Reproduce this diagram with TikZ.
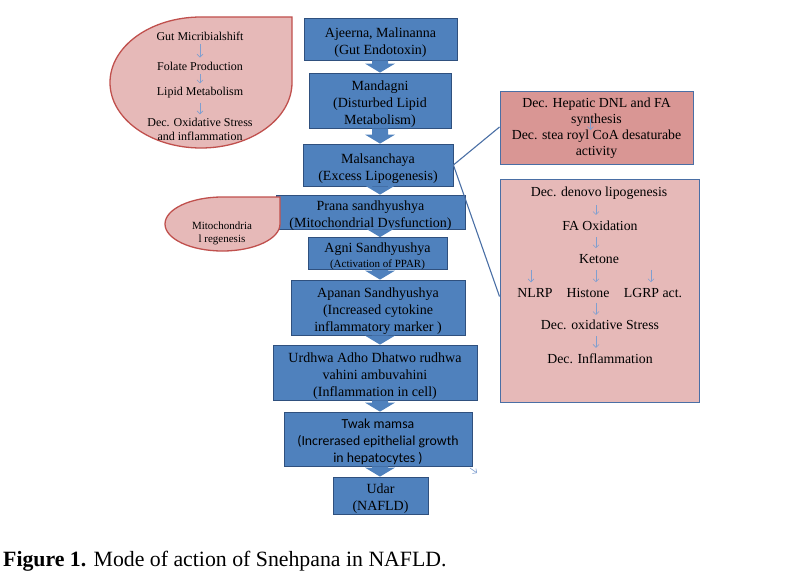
\documentclass[tikz,border=0pt]{standalone}
\usepackage{fontspec}
\setmainfont{Liberation Serif}
\newfontfamily\calibrifont{Carlito}
\usetikzlibrary{calc,arrows.meta}
\definecolor{boxblue}{HTML}{4F81BD}
\definecolor{boxedge}{HTML}{2F507E}
\definecolor{leafpink}{HTML}{E6B9B8}
\definecolor{leafedge}{HTML}{C0504D}
\definecolor{rosebox}{HTML}{D99694}
\definecolor{linkblue}{HTML}{4A6FA5}
\definecolor{tinyblue}{HTML}{7F9FD0}
\tikzset{
  stepbox/.style={draw=boxedge,fill=boxblue,line width=0.8pt,inner sep=0pt,
    font=\fontsize{14}{17}\selectfont},
  leafshape/.style={draw=leafedge,fill=leafpink,line width=1.3pt},
  leaftext/.style={inner sep=0pt,align=center,font=\fontsize{12}{13.5}\selectfont},
  sidetext/.style={inner sep=0pt,align=center,font=\fontsize{13.8}{15.5}\selectfont},
  tinyarrow/.style={draw=tinyblue,line width=0.6pt,-{Straight Barb[length=3pt,width=6pt]}},
  linkline/.style={draw=linkblue,line width=1.1pt}
}
% text of a step box, set a little low as in the slide
\newcommand\steplines[1]{\raisebox{-3.5pt}[\height][\depth]{\begin{tabular}{@{}c@{}}#1\end{tabular}}}
% fat blue arrow from one step box down to the next
\newcommand\flowarrow[2]{%
  \fill[boxblue] ($(#1.south -| flowcol)+(-8,0)$) -- ($(#1.south -| flowcol)+(8,0)$)
    -- ($(#2.north -| flowcol)+(8,-9)$) -- ($(#2.north -| flowcol)+(15,-9)$)
    -- (#2.north -| flowcol) -- ($(#2.north -| flowcol)+(-15,-9)$)
    -- ($(#2.north -| flowcol)+(-8,-9)$) -- cycle;}
\begin{document}
\begin{tikzpicture}[x=1pt,y=-1pt]
\useasboundingbox (0,0) rectangle (799,586);
\coordinate (flowcol) at (380,0);

% main column
\node[stepbox,minimum width=153pt,minimum height=42pt] (ajeerna) at (380.5,39) {\steplines{Ajeerna, Malinanna\\(Gut Endotoxin)}};
\node[stepbox,minimum width=142pt,minimum height=55pt] (mandagni) at (380,100.5) {\steplines{Mandagni\\(Disturbed Lipid\\Metabolism)}};
\node[stepbox,minimum width=150pt,minimum height=42pt] (malsanchaya) at (378,165) {\steplines{Malsanchaya\\(Excess Lipogenesis)}};
\node[stepbox,minimum width=189pt,minimum height=30pt] (prana) at (370.5,212) {\steplines{Prana sandhyushya\\(Mitochondrial Dysfunction)}};
\node[stepbox,minimum width=139pt,minimum height=31pt] (agni) at (377.5,253.5) {\steplines{Agni Sandhyushya\\[-2pt]{\fontsize{11}{13}\selectfont(Activation of PPAR)}}};
\node[stepbox,minimum width=174pt,minimum height=55pt] (apanan) at (378,307.5) {\steplines{Apanan Sandhyushya\\(Increased cytokine\\inflammatory marker )}};
\node[stepbox,minimum width=204pt,minimum height=55pt] (urdhwa) at (375,372.5) {\steplines{Urdhwa Adho Dhatwo rudhwa\\vahini ambuvahini\\(Inflammation in cell)}};
\node[stepbox,minimum width=188pt,minimum height=54pt,font=\calibrifont\fontsize{13.8}{17}\selectfont] (twak) at (378,439) {\steplines{Twak mamsa\\(Increrased epithelial growth\\in hepatocytes )}};
\node[stepbox,minimum width=95pt,minimum height=37pt] (udar) at (380.5,495.5) {\steplines{Udar\\(NAFLD)}};

\flowarrow{ajeerna}{mandagni}
\flowarrow{mandagni}{malsanchaya}
\flowarrow{malsanchaya}{prana}
\flowarrow{prana}{agni}
\flowarrow{agni}{apanan}
\flowarrow{apanan}{urdhwa}
\flowarrow{urdhwa}{twak}
\flowarrow{twak}{udar}

% gut leaf
\draw[leafshape] (201,17) .. controls (150.7,17) and (110,46.3) .. (110,82.5)
  .. controls (110,118.7) and (150.7,148) .. (201,148)
  .. controls (251.3,148) and (292,118.7) .. (292,82.5) -- (292,17) -- cycle;
\node[leaftext] (gut) at (200,36) {Gut Micribialshift};
\node[leaftext] (folate) at (200,66) {Folate Production};
\node[leaftext] (lipid) at (200,93) {Lipid Metabolism};
\node[leaftext] (oxid) at (200,129.5) {Dec. Oxidative Stress\\and inflammation};
\draw[tinyarrow] ($(gut.south)+(0,4)$) -- ($(folate.north)+(0,-4)$);
\draw[tinyarrow] ($(folate.south)+(0,4)$) -- ($(lipid.north)+(0,-4)$);
\draw[tinyarrow] ($(lipid.south)+(0,4)$) -- ($(oxid.north)+(0,-4)$);

% mitochondria leaf
\draw[leafshape] (222.5,197) .. controls (190.7,197) and (165,209.1) .. (165,224)
  .. controls (165,238.9) and (190.7,251) .. (222.5,251)
  .. controls (254.3,251) and (280,238.9) .. (280,224) -- (280,197) -- cycle;
\node[leaftext,font=\fontsize{11}{13}\selectfont] (mito) at (222,233) {Mitochondria\\l regenesis};

% right boxes
\node[draw=linkblue,fill=rosebox,line width=1pt,minimum width=193pt,minimum height=73pt,
  inner sep=0pt,align=center,font=\fontsize{13.8}{16}\selectfont] (hepatic) at (596.5,128)
  {Dec. Hepatic DNL and FA\\synthesis\\Dec. stea royl CoA desaturabe\\activity};
\draw[tinyarrow] ($(hepatic.center)+(-6,-9)$) -- ($(hepatic.center)+(-6,2)$);
\node[draw=linkblue,fill=leafpink,line width=1pt,minimum width=199pt,minimum height=223pt] (ketobox) at (599.5,290.5) {};
\node[sidetext] (denovo) at (599,193) {Dec. denovo lipogenesis};
\node[sidetext] (faox) at (600,226) {FA Oxidation};
\node[sidetext] (ketone) at (599,259) {Ketone};
\node[sidetext] (nlrp) at (535,293) {NLRP};
\node[sidetext] (histone) at (588,293) {Histone};
\node[sidetext] (lgrp) at (653,293) {LGRP act.};
\node[sidetext] (stress) at (600,325) {Dec. oxidative Stress};
\node[sidetext] (inflam) at (600,359) {Dec. Inflammation};
\draw[tinyarrow] ($(denovo.south -| ketone)+(-3,6)$) -- ($(faox.north -| ketone)+(-3,-6)$);
\draw[tinyarrow] ($(faox.south -| ketone)+(-3,6)$) -- ($(ketone.north)+(-3,-6)$);
\draw[tinyarrow] ($(ketone.south -| nlrp)+(-4,6)$) -- ($(nlrp.north)+(-4,-6)$);
\draw[tinyarrow] ($(ketone.south)+(-3,6)$) -- ($(histone.north -| ketone)+(-3,-6)$);
\draw[tinyarrow] ($(ketone.south -| lgrp)+(-2,6)$) -- ($(lgrp.north)+(-2,-6)$);
\draw[tinyarrow] ($(histone.south -| ketone)+(-3,5)$) -- ($(stress.north -| ketone)+(-3,-5)$);
\draw[tinyarrow] ($(stress.south -| ketone)+(-3,6)$) -- ($(inflam.north -| ketone)+(-3,-6)$);

\draw[linkline] (malsanchaya.east) -- ($(hepatic.west)+(0,-1)$);
\draw[linkline] (malsanchaya.east) -- ($(ketobox.west)+(0,6)$);

% stray tick
\coordinate (tick) at (470,468);
\draw[tinyarrow] (tick) -- ++(7,5);

% caption
\node[anchor=base west,inner sep=0pt,font=\fontsize{21.8}{26}\selectfont] (caption) at (3,566)
  {\textbf{Figure 1.} Mode of action of Snehpana in NAFLD.};
\end{tikzpicture}
\end{document}
